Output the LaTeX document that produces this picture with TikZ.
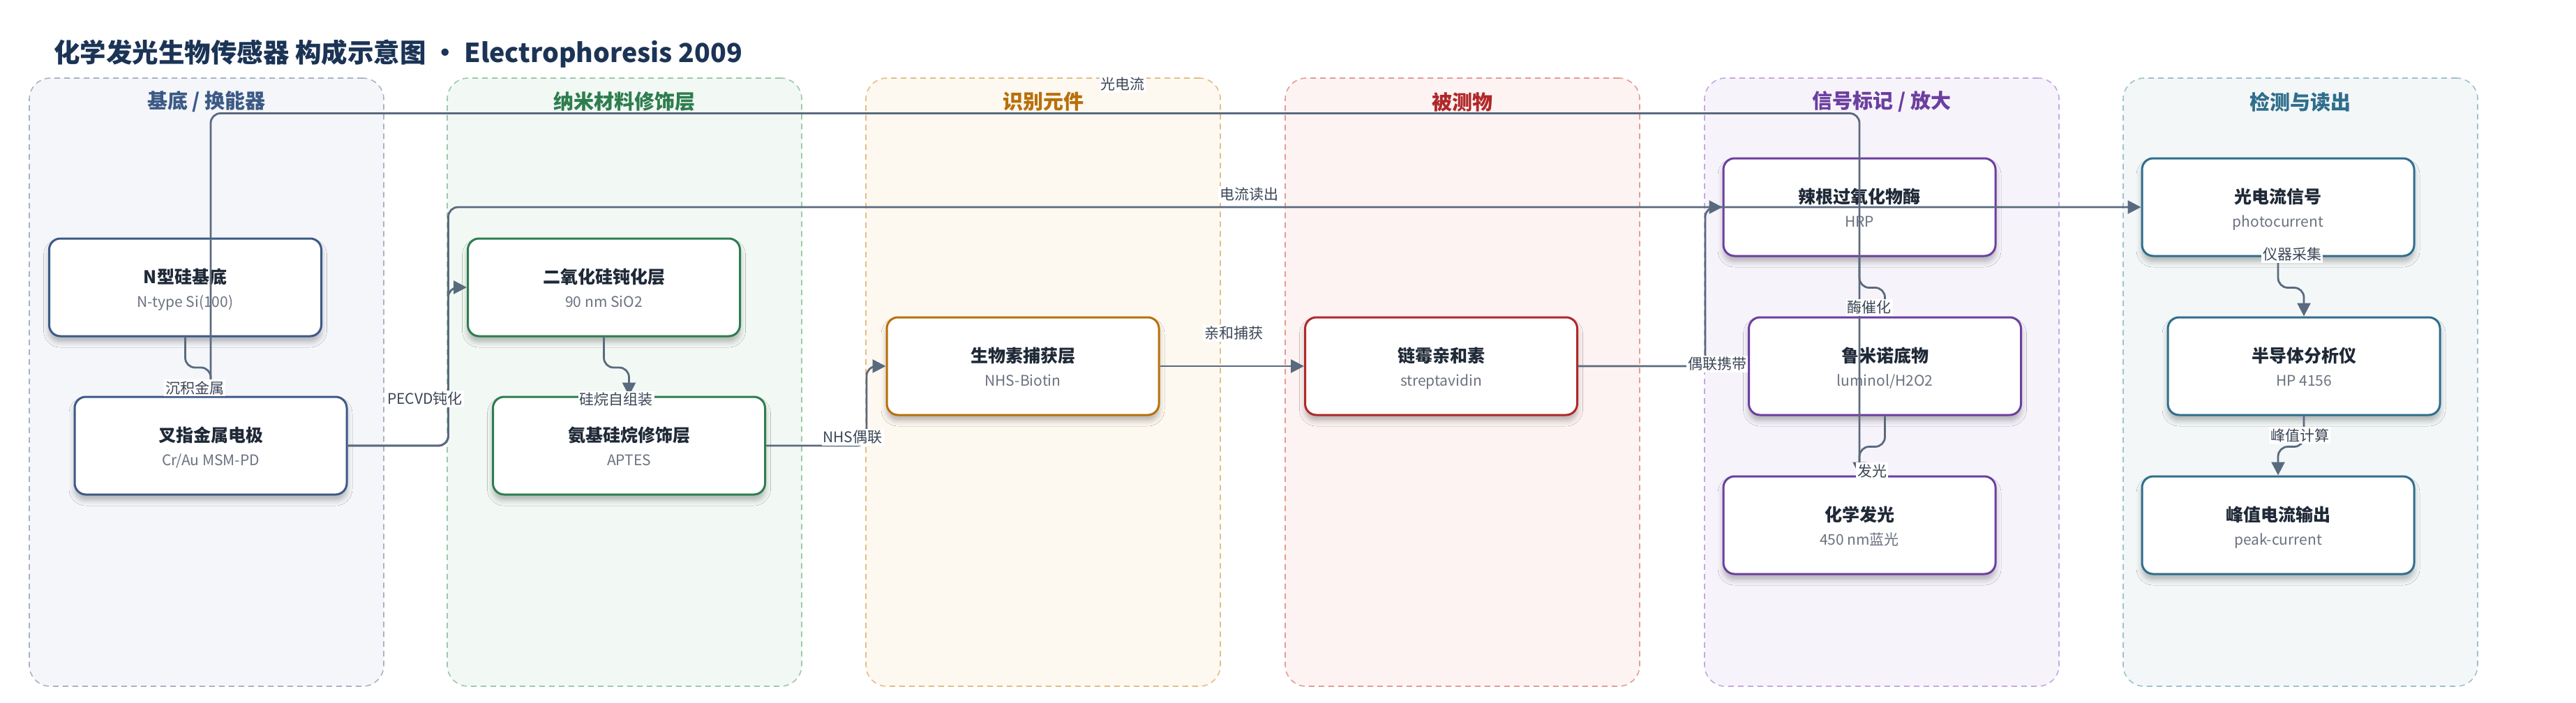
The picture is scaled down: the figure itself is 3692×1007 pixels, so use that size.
\documentclass[tikz,border=0pt]{standalone}
\usepackage{fontspec}
\setmainfont{Noto Sans CJK SC}
\usetikzlibrary{arrows.meta,calc,shadows.blur}
\definecolor{titlec}{HTML}{1B3456}
\definecolor{edgec}{HTML}{5A6A7E}
\definecolor{lblc}{HTML}{3B4656}
\definecolor{ntext}{HTML}{1F2937}
\definecolor{nsub}{HTML}{6B7280}
\definecolor{cA}{HTML}{3C5A86}\definecolor{fA}{HTML}{F5F6FA}\definecolor{dA}{HTML}{A8B3C5}
\definecolor{cB}{HTML}{2E7D4F}\definecolor{fB}{HTML}{F2F8F4}\definecolor{dB}{HTML}{9CCAAC}
\definecolor{cC}{HTML}{B8700A}\definecolor{fC}{HTML}{FDF8F0}\definecolor{dC}{HTML}{E2BE86}
\definecolor{cD}{HTML}{B0282A}\definecolor{fD}{HTML}{FDF3F2}\definecolor{dD}{HTML}{E49C98}
\definecolor{cE}{HTML}{6B3FA0}\definecolor{fE}{HTML}{F7F3FB}\definecolor{dE}{HTML}{C4A9E1}
\definecolor{cF}{HTML}{2F6E8C}\definecolor{fF}{HTML}{F3F7F8}\definecolor{dF}{HTML}{9FC1CC}
\newcommand\mkcomp[6]{%
  \node[nodebox, draw=#4] (#1) at (#2,#3) {};
  \node[ttl, anchor=base] (#1-t) at ($(#1.center)+(0,-6)$) {#5};
  \node[subt, anchor=base] (#1-s) at ($(#1.center)+(0,28)$) {#6};}
\begin{document}
\begin{tikzpicture}[x=1pt,y=-1pt,
  lane/.style={rounded corners=30pt, line width=1.6pt, dash pattern=on 8pt off 6pt,
    minimum width=508pt, minimum height=872pt, inner sep=0pt},
  lanetitle/.style={font=\fontsize{29}{34}\selectfont\bfseries},
  nodebox/.style={line width=3pt, fill=white, rounded corners=16pt,
    minimum width=390pt, minimum height=140pt, inner sep=0pt,
    blur shadow={shadow xshift=0pt, shadow yshift=-8pt, shadow blur radius=8pt, shadow opacity=28}},
  ttl/.style={font=\fontsize{25}{30}\selectfont\bfseries, text=ntext, inner sep=0pt},
  subt/.style={font=\fontsize{21}{25}\selectfont, text=nsub, inner sep=0pt},
  conn/.style={draw=edgec, line width=2.8pt, rounded corners=14pt,
    -{Triangle[length=19pt,width=19pt]}},
  lbl/.style={fill=white, text=lblc, font=\fontsize{21}{25}\selectfont, inner sep=2pt}]
\useasboundingbox (0,0) rectangle (3692,1007);
\fill[white] (0,0) rectangle (3692,1007);
% title
\node[anchor=base west, text=titlec, font=\fontsize{37.5}{44}\selectfont\bfseries, inner sep=0pt]
  (title) at (77,89) {化学发光生物传感器 构成示意图 · Electrophoresis 2009};
% lanes
\node[lane, fill=fA, draw=dA] (laneA) at (296,548) {};
\node[lane, fill=fB, draw=dB] (laneB) at (895,548) {};
\node[lane, fill=fC, draw=dC] (laneC) at (1495,548) {};
\node[lane, fill=fD, draw=dD] (laneD) at (2096,548) {};
\node[lane, fill=fE, draw=dE] (laneE) at (2697,548) {};
\node[lane, fill=fF, draw=dF] (laneF) at (3297,548) {};
\node[lanetitle, text=cA] (laneA-t) at (296,146) {基底 / 换能器};
\node[lanetitle, text=cB] (laneB-t) at (895,146) {纳米材料修饰层};
\node[lanetitle, text=cC] (laneC-t) at (1495,146) {识别元件};
\node[lanetitle, text=cD] (laneD-t) at (2096,146) {被测物};
\node[lanetitle, text=cE] (laneE-t) at (2697,146) {信号标记 / 放大};
\node[lanetitle, text=cF] (laneF-t) at (3297,146) {检测与读出};
% components
\mkcomp{nsi}{265.5}{412}{cA}{N型硅基底}{N-type Si(100)}
\mkcomp{idt}{302}{639}{cA}{叉指金属电极}{Cr/Au MSM-PD}
\mkcomp{sio2}{865.5}{412}{cB}{二氧化硅钝化层}{90 nm SiO2}
\mkcomp{aptes}{901.5}{639}{cB}{氨基硅烷修饰层}{APTES}
\mkcomp{biotin}{1466}{525}{cC}{生物素捕获层}{NHS-Biotin}
\mkcomp{sa}{2065.5}{525}{cD}{链霉亲和素}{streptavidin}
\mkcomp{hrp}{2665}{297}{cE}{辣根过氧化物酶}{HRP}
\mkcomp{lum}{2701.5}{525}{cE}{鲁米诺底物}{luminol/H2O2}
\mkcomp{cl}{2665}{753}{cE}{化学发光}{450 nm蓝光}
\mkcomp{pc}{3265}{297}{cF}{光电流信号}{photocurrent}
\mkcomp{hp}{3302}{525}{cF}{半导体分析仪}{HP 4156}
\mkcomp{peak}{3265}{753}{cF}{峰值电流输出}{peak-current}
% connectors
\draw[conn] (nsi.south) -- ++(0,43.5) -| (idt.north);
\draw[conn] (idt.east) -- ++(144,0) |- (sio2.west);
\draw[conn] (idt.east) -- ++(144,0) |- (pc.west);
\draw[conn] (sio2.south) -- ++(0,43.5) -| (aptes.north);
\draw[conn] (aptes.east) -- ++(144,0) |- (biotin.west);
\draw[conn] (biotin.east) -- (sa.west);
\draw[conn] (sa.east) -- ++(182,0) |- (hrp.west);
\draw[conn] (hrp.south) -- ++(0,44) -| (lum.north);
\draw[conn] (lum.south) -- ++(0,44) -| (cl.north);
\draw[conn] (cl.north) -- ++(0,-519) -| (idt.north);
\draw[conn] (pc.south) -- ++(0,44) -| (hp.north);
\draw[conn] (hp.south) -- ++(0,44) -| (peak.north);
% connector labels
\node[lbl] (l-dep) at (279,556) {沉积金属};
\node[lbl] (l-pecvd) at (609,572) {PECVD钝化};
\node[lbl] (l-read) at (1790,279) {电流读出};
\node[lbl] (l-sam) at (883,573) {硅烷自组装};
\node[lbl] (l-nhs) at (1222,627) {NHS偶联};
\node[lbl] (l-aff) at (1768,478) {亲和捕获};
\node[lbl] (l-cpl) at (2461,522) {偶联携带};
\node[lbl] (l-enz) at (2679,441) {酶催化};
\node[lbl] (l-lum) at (2683,675) {发光};
\node[lbl] (l-pc) at (1609,121) {光电流};
\node[lbl] (l-acq) at (3285,365) {仪器采集};
\node[lbl] (l-pk) at (3296,624) {峰值计算};
\end{tikzpicture}
\end{document}
